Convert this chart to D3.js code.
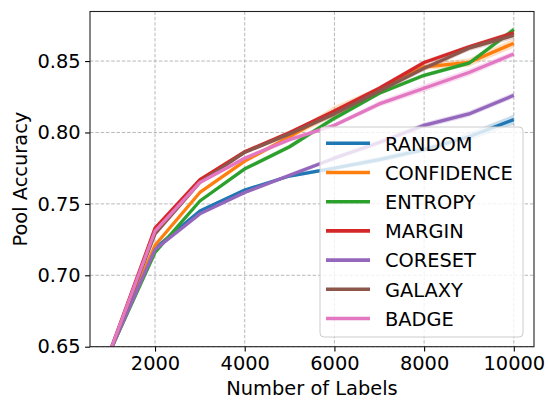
<!DOCTYPE html>
<html>
<head>
<meta charset="utf-8">
<script src="https://cdn.jsdelivr.net/npm/d3@7"></script>
<style>
  body { margin: 0; background: #fff; }
  text { font-family: "DejaVu Sans", sans-serif; }
</style>
</head>
<body>
<div id="chart"></div>
<script>
// number of labels
var labels = [1000, 2000, 3000, 4000, 5000, 6000, 7000, 8000, 9000, 10000];

var methods = ["RANDOM", "CONFIDENCE", "ENTROPY", "MARGIN", "CORESET", "GALAXY", "BADGE"];
var colors = ["#1f77b4", "#ff7f0e", "#2ca02c", "#d62728", "#9467bd", "#8c564b", "#e377c2"];

// mean pool accuracy per method
var random     = [0.647, 0.719, 0.745, 0.7597, 0.7695, 0.775, 0.781, 0.788, 0.797, 0.809];
var confidence = [0.647, 0.721, 0.758, 0.780, 0.797, 0.815, 0.830, 0.846, 0.849, 0.8625];
var entropy    = [0.647, 0.716, 0.752, 0.7745, 0.790, 0.810, 0.8275, 0.840, 0.8485, 0.872];
var margin     = [0.647, 0.733, 0.767, 0.7865, 0.800, 0.815, 0.831, 0.849, 0.860, 0.8698];
var coreset    = [0.647, 0.718, 0.743, 0.758, 0.770, 0.782, 0.793, 0.805, 0.813, 0.826];
var galaxy     = [0.647, 0.729, 0.765, 0.786, 0.799, 0.813, 0.829, 0.845, 0.859, 0.868];
var badge      = [0.647, 0.731, 0.765, 0.782, 0.795, 0.805, 0.820, 0.831, 0.842, 0.855];

// spread (std) per method, drawn as light bands
var randomStd     = [0.001, 0.001, 0.001, 0.001, 0.001, 0.0015, 0.002, 0.002, 0.003, 0.0035];
var confidenceStd = [0.001, 0.001, 0.001, 0.0015, 0.002, 0.0035, 0.002, 0.002, 0.003, 0.003];
var entropyStd    = [0.001, 0.001, 0.001, 0.0015, 0.0015, 0.002, 0.0015, 0.0015, 0.0015, 0.002];
var marginStd     = [0.001, 0.001, 0.001, 0.001, 0.001, 0.0015, 0.0015, 0.0015, 0.0015, 0.0015];
var coresetStd    = [0.001, 0.001, 0.001, 0.001, 0.0015, 0.0015, 0.002, 0.002, 0.002, 0.002];
var galaxyStd     = [0.001, 0.001, 0.001, 0.001, 0.0015, 0.002, 0.002, 0.002, 0.002, 0.0025];
var badgeStd      = [0.001, 0.001, 0.001, 0.0015, 0.0015, 0.0015, 0.002, 0.0025, 0.0025, 0.002];

var means = [random, confidence, entropy, margin, coreset, galaxy, badge];
var stds = [randomStd, confidenceStd, entropyStd, marginStd, coresetStd, galaxyStd, badgeStd];

var xTicks = [2000, 4000, 6000, 8000, 10000];
var yTicks = [0.65, 0.70, 0.75, 0.80, 0.85];

var width = 548, height = 401;
var axLeft = 90, axRight = 534, axTop = 11.5, axBottom = 346.7;

var svg = d3.select("#chart").append("svg")
    .attr("width", width)
    .attr("height", height);

var x = d3.scaleLinear().domain([550, 10450]).range([axLeft, axRight]);
var y = d3.scaleLinear().domain([0.65, 0.8847]).range([axBottom, axTop]);

svg.append("clipPath").attr("id", "clip")
  .append("rect")
    .attr("x", axLeft).attr("y", axTop)
    .attr("width", axRight - axLeft).attr("height", axBottom - axTop);

// grid
var grid = svg.append("g");
grid.selectAll(".gx").data(xTicks).enter().append("line")
    .attr("x1", d => x(d)).attr("x2", d => x(d))
    .attr("y1", axTop).attr("y2", axBottom);
grid.selectAll(".gy").data(yTicks).enter().append("line")
    .attr("x1", axLeft).attr("x2", axRight)
    .attr("y1", d => y(d)).attr("y2", d => y(d));
grid.selectAll("line")
    .attr("stroke", "#b0b0b0")
    .attr("stroke-width", 0.9)
    .attr("stroke-dasharray", "3.5,1.8");

var plot = svg.append("g").attr("clip-path", "url(#clip)");

var area = d3.area()
    .x((d, i) => x(labels[i]))
    .y0(d => y(d[0] - d[1]))
    .y1(d => y(d[0] + d[1]));

var line = d3.line()
    .x((d, i) => x(labels[i]))
    .y(d => y(d));

means.forEach(function (m, k) {
    var band = m.map((v, i) => [v, stds[k][i]]);
    plot.append("path")
        .attr("d", area(band))
        .attr("fill", colors[k])
        .attr("fill-opacity", 0.25);
    plot.append("path")
        .attr("d", line(m))
        .attr("fill", "none")
        .attr("stroke", colors[k])
        .attr("stroke-width", 3.3)
        .attr("stroke-linejoin", "round");
});

// axes
var xAxis = svg.append("g")
    .attr("transform", `translate(0,${axBottom})`)
    .call(d3.axisBottom(x).tickValues(xTicks).tickSize(4.9).tickPadding(4.5).tickFormat(d3.format("d")));
var yAxis = svg.append("g")
    .attr("transform", `translate(${axLeft},0)`)
    .call(d3.axisLeft(y).tickValues(yTicks).tickSize(4.9).tickPadding(4.5).tickFormat(d3.format(".2f")));

[xAxis, yAxis].forEach(function (a) {
    a.select(".domain").remove();
    a.selectAll(".tick line").attr("stroke", "#000").attr("stroke-width", 1.1);
    a.selectAll(".tick text")
        .attr("fill", "#000")
        .style("font-size", "19.4px")
        .style("font-family", "'DejaVu Sans', sans-serif");
});

// spines
svg.append("rect")
    .attr("x", axLeft).attr("y", axTop)
    .attr("width", axRight - axLeft).attr("height", axBottom - axTop)
    .attr("fill", "none")
    .attr("stroke", "#222")
    .attr("stroke-width", 1.1);

svg.append("text")
    .attr("x", (axLeft + axRight) / 2)
    .attr("y", 395)
    .attr("text-anchor", "middle")
    .style("font-size", "19.4px")
    .text("Number of Labels");

svg.append("text")
    .attr("transform", `translate(27,${(axTop + axBottom) / 2}) rotate(-90)`)
    .attr("text-anchor", "middle")
    .style("font-size", "19.4px")
    .text("Pool Accuracy");

// legend
var legend = svg.append("g");
legend.append("rect")
    .attr("x", 320).attr("y", 127)
    .attr("width", 203).attr("height", 210)
    .attr("rx", 4)
    .attr("fill", "#fff")
    .attr("fill-opacity", 0.8)
    .attr("stroke", "#cccccc")
    .attr("stroke-width", 1);

var rows = legend.selectAll(".row").data(methods).enter().append("g")
    .attr("transform", (d, i) => `translate(0,${143.3 + i * 29.2})`);
rows.append("line")
    .attr("x1", 326).attr("x2", 370)
    .attr("stroke", (d, i) => colors[i])
    .attr("stroke-width", 3.6);
rows.append("text")
    .attr("x", 385)
    .attr("y", 7.2)
    .style("font-size", "19.4px")
    .text(d => d);
</script>
</body>
</html>
